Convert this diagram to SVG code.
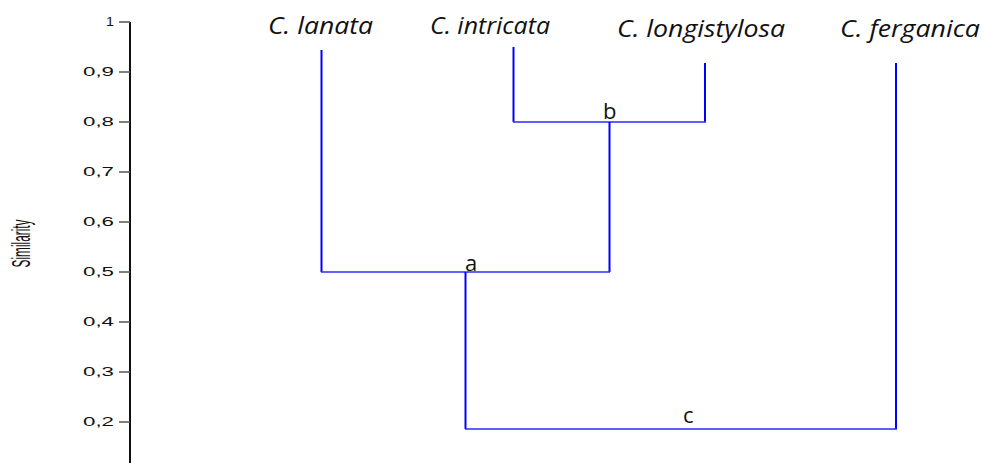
<svg xmlns="http://www.w3.org/2000/svg" width="984" height="463" viewBox="0 0 984 463">
  <style>
    .tick-label { font-family: "Liberation Sans", Arial, sans-serif; font-size: 12px; fill: #111; text-anchor: end; }
    .tick { stroke: #555; stroke-width: 1.5; }
    .axis { stroke: #111; stroke-width: 2; fill: none; }
    .axis-title { font-family: "Liberation Sans", Arial, sans-serif; font-size: 25px; fill: #111; text-anchor: middle; }
    .taxon { font-family: "Open Sans", "Noto Sans", sans-serif; font-style: italic; font-size: 24px; fill: #111; }
    .node-label { font-family: "Open Sans", "Noto Sans", sans-serif; font-size: 22px; fill: #111; }
    .branch { stroke: #0000ff; stroke-width: 2; fill: none; }
    .link { stroke: #2a2aff; stroke-width: 1.5; fill: none; }
  </style>

  <!-- similarity axis -->
  <g id="axis">
    <line class="axis" x1="130" y1="22" x2="130" y2="463"/>
    <g class="ticks">
      <line class="tick" x1="119" y1="22" x2="130" y2="22"/>
      <line class="tick" x1="119" y1="72" x2="130" y2="72"/>
      <line class="tick" x1="119" y1="122" x2="130" y2="122"/>
      <line class="tick" x1="119" y1="172" x2="130" y2="172"/>
      <line class="tick" x1="119" y1="222" x2="130" y2="222"/>
      <line class="tick" x1="119" y1="272" x2="130" y2="272"/>
      <line class="tick" x1="119" y1="322" x2="130" y2="322"/>
      <line class="tick" x1="119" y1="372" x2="130" y2="372"/>
      <line class="tick" x1="119" y1="422" x2="130" y2="422"/>
    </g>
    <text class="tick-label" x="114" y="26" textLength="8" lengthAdjust="spacingAndGlyphs">1</text>
    <text class="tick-label" x="114" y="76" textLength="31" lengthAdjust="spacingAndGlyphs">0,9</text>
    <text class="tick-label" x="114" y="126" textLength="31" lengthAdjust="spacingAndGlyphs">0,8</text>
    <text class="tick-label" x="114" y="176" textLength="31" lengthAdjust="spacingAndGlyphs">0,7</text>
    <text class="tick-label" x="114" y="226" textLength="31" lengthAdjust="spacingAndGlyphs">0,6</text>
    <text class="tick-label" x="114" y="276" textLength="31" lengthAdjust="spacingAndGlyphs">0,5</text>
    <text class="tick-label" x="114" y="326" textLength="31" lengthAdjust="spacingAndGlyphs">0,4</text>
    <text class="tick-label" x="114" y="376" textLength="31" lengthAdjust="spacingAndGlyphs">0,3</text>
    <text class="tick-label" x="114" y="426" textLength="31" lengthAdjust="spacingAndGlyphs">0,2</text>
    <text class="axis-title" transform="translate(30,243.5) rotate(-90)" textLength="48" lengthAdjust="spacingAndGlyphs">Similarity</text>
  </g>

  <!-- leaves -->
  <g id="leaf-lanata">
    <text class="taxon" x="268" y="34" textLength="105" lengthAdjust="spacingAndGlyphs">C. lanata</text>
  </g>
  <g id="leaf-intricata">
    <text class="taxon" x="430" y="34" textLength="120" lengthAdjust="spacingAndGlyphs">C. intricata</text>
  </g>
  <g id="leaf-longistylosa">
    <text class="taxon" x="617" y="37" textLength="168" lengthAdjust="spacingAndGlyphs">C. longistylosa</text>
  </g>
  <g id="leaf-ferganica">
    <text class="taxon" x="840" y="37" textLength="140" lengthAdjust="spacingAndGlyphs">C. ferganica</text>
  </g>

  <!-- internal nodes -->
  <g id="node-b">
    <text class="node-label" x="603" y="119">b</text>
  </g>
  <g id="node-a">
    <text class="node-label" x="465" y="271">a</text>
  </g>
  <g id="node-c">
    <text class="node-label" x="683" y="423">c</text>
  </g>

  <!-- dendrogram branches -->
  <g id="connectors">
    <line class="branch" x1="321.5" y1="50" x2="321.5" y2="272"/>
    <line class="branch" x1="513.5" y1="47" x2="513.5" y2="122"/>
    <line class="branch" x1="705" y1="63" x2="705" y2="122"/>
    <line class="link" x1="513" y1="122" x2="706" y2="122"/>
    <line class="branch" x1="609.5" y1="122" x2="609.5" y2="272"/>
    <line class="link" x1="321" y1="272" x2="610" y2="272"/>
    <line class="branch" x1="465.5" y1="272" x2="465.5" y2="429"/>
    <line class="branch" x1="896" y1="63" x2="896" y2="429"/>
    <line class="link" x1="465" y1="429" x2="897" y2="429"/>
  </g>
</svg>
